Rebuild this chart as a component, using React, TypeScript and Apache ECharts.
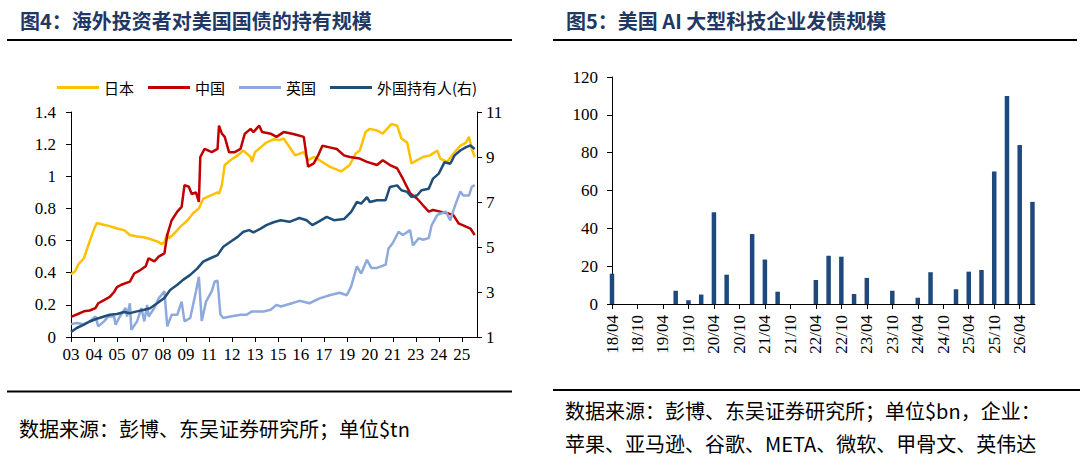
import React, { useEffect, useRef } from "react";
import * as echarts from "echarts";

// ---------- Left chart: holdings of US Treasuries ($tn), x = months since Jan 2003 ----------
const japanData: [number, number][] = [
  [0, 0.39], [3, 0.41], [5, 0.45], [9, 0.49], [12, 0.57], [16, 0.67], [18, 0.71], [22, 0.7],
  [27, 0.69], [32, 0.675], [37, 0.665], [41, 0.635], [46, 0.625], [51, 0.62], [55, 0.61],
  [60, 0.595], [63, 0.58], [65, 0.59], [67, 0.645], [68, 0.615], [71, 0.635], [76, 0.685],
  [81, 0.725], [85, 0.77], [89, 0.8], [92, 0.86], [97, 0.88], [102, 0.9], [103, 0.89],
  [105, 0.945], [107, 1.07], [111, 1.1], [116, 1.13], [120, 1.16], [125, 1.12], [126, 1.09],
  [128, 1.15], [132, 1.18], [136, 1.21], [141, 1.23], [145, 1.225], [148, 1.235], [153, 1.17],
  [156, 1.13], [162, 1.15], [165, 1.1], [169, 1.12], [173, 1.1], [180, 1.06], [188, 1.03],
  [194, 1.07], [198, 1.14], [201, 1.16], [205, 1.275], [208, 1.295], [213, 1.285], [217, 1.265],
  [220, 1.295], [223, 1.325], [227, 1.315], [230, 1.235], [234, 1.21], [237, 1.08], [241, 1.1],
  [245, 1.12], [250, 1.13], [255, 1.16], [257, 1.11], [262, 1.09], [266, 1.14], [271, 1.19],
  [275, 1.21], [277, 1.245], [279, 1.17], [281, 1.12],
];

const chinaData: [number, number][] = [
  [0, 0.125], [4, 0.14], [9, 0.16], [13, 0.165], [17, 0.18], [19, 0.21], [23, 0.23], [27, 0.25],
  [30, 0.28], [32, 0.31], [35, 0.325], [41, 0.345], [44, 0.395], [48, 0.415], [52, 0.44],
  [54, 0.49], [58, 0.47], [61, 0.5], [65, 0.52], [67, 0.635], [70, 0.725], [74, 0.78], [77, 0.81],
  [79, 0.945], [82, 0.935], [84, 0.89], [87, 0.9], [89, 0.84], [90, 1.12], [93, 1.17], [98, 1.15],
  [102, 1.17], [103, 1.315], [105, 1.265], [107, 1.245], [110, 1.15], [114, 1.15], [118, 1.17],
  [121, 1.265], [125, 1.295], [127, 1.275], [131, 1.315], [133, 1.275], [139, 1.265],
  [143, 1.245], [148, 1.275], [154, 1.265], [158, 1.255], [162, 1.245], [165, 1.06], [169, 1.08],
  [172, 1.13], [175, 1.19], [180, 1.18], [185, 1.17], [190, 1.13], [194, 1.12], [201, 1.11],
  [206, 1.09], [213, 1.07], [217, 1.1], [222, 1.07], [227, 1.05], [231, 0.985], [236, 0.895],
  [241, 0.86], [245, 0.82], [249, 0.78], [252, 0.79], [257, 0.78], [262, 0.77], [266, 0.76],
  [270, 0.705], [273, 0.695], [278, 0.675], [281, 0.635],
];

const ukData: [number, number][] = [
  [0, 0.08], [4, 0.087], [9, 0.08], [13, 0.097], [17, 0.128], [19, 0.066], [23, 0.097],
  [26, 0.128], [30, 0.128], [31, 0.076], [34, 0.128], [38, 0.18], [39, 0.128], [41, 0.21],
  [42, 0.045], [46, 0.097], [49, 0.18], [51, 0.097], [53, 0.2], [54, 0.128], [58, 0.18],
  [61, 0.24], [65, 0.285], [67, 0.066], [70, 0.138], [74, 0.138], [77, 0.22], [79, 0.097],
  [83, 0.118], [87, 0.285], [89, 0.375], [91, 0.1], [94, 0.22], [98, 0.285], [100, 0.345],
  [102, 0.35], [104, 0.14], [106, 0.118], [111, 0.128], [118, 0.138], [122, 0.138], [126, 0.159],
  [134, 0.159], [139, 0.17], [143, 0.2], [146, 0.19], [152, 0.205], [159, 0.225], [166, 0.21],
  [173, 0.24], [180, 0.26], [187, 0.275], [192, 0.26], [195, 0.315], [199, 0.44], [202, 0.395],
  [206, 0.48], [209, 0.43], [213, 0.43], [219, 0.45], [221, 0.55], [224, 0.585], [228, 0.655],
  [231, 0.635], [236, 0.665], [238, 0.57], [242, 0.615], [245, 0.605], [249, 0.615], [251, 0.695],
  [255, 0.76], [258, 0.77], [261, 0.78], [264, 0.725], [267, 0.81], [271, 0.905], [273, 0.88],
  [277, 0.88], [279, 0.935], [281, 0.945],
];

const foreignData: [number, number][] = [
  [0, 1.22], [4, 1.4], [9, 1.55], [13, 1.69], [18, 1.81], [23, 1.91], [27, 1.99], [32, 2.02],
  [37, 2.11], [41, 2.06], [46, 2.14], [51, 2.21], [55, 2.28], [60, 2.5], [65, 2.73], [69, 3.09],
  [74, 3.32], [78, 3.54], [83, 3.76], [88, 4.05], [92, 4.35], [97, 4.5], [102, 4.64], [106, 5.01],
  [111, 5.23], [116, 5.45], [120, 5.68], [124, 5.75], [127, 5.65], [132, 5.82], [136, 5.97],
  [141, 6.1], [146, 6.19], [152, 6.12], [159, 6.29], [164, 6.19], [168, 5.97], [173, 6.15],
  [178, 6.34], [183, 6.19], [190, 6.24], [195, 6.56], [199, 7.0], [202, 6.93], [206, 7.22],
  [208, 7.0], [213, 7.08], [219, 7.08], [222, 7.67], [227, 7.74], [230, 7.52], [234, 7.45],
  [237, 7.22], [241, 7.3], [244, 7.52], [249, 7.59], [252, 8.04], [256, 8.26], [260, 8.77],
  [264, 8.7], [267, 9.07], [271, 9.29], [275, 9.44], [278, 9.51], [281, 9.36],
];

const yearTickLabels = ["03", "04", "05", "07", "08", "09", "11", "12", "13", "15", "16", "17", "19", "20", "21", "23", "24", "25"];
const legendNames = ["日本", "中国", "英国", "外国持有人(右)"];

// ---------- Right chart: AI big-tech bond issuance ($bn), quarterly ----------
const quarterLabels = [
  "18/04", "18/07", "18/10", "19/01", "19/04", "19/07", "19/10", "20/01", "20/04", "20/07",
  "20/10", "21/01", "21/04", "21/07", "21/10", "22/01", "22/04", "22/07", "22/10", "23/01",
  "23/04", "23/07", "23/10", "24/01", "24/04", "24/07", "24/10", "25/01", "25/04", "25/07",
  "25/10", "26/01", "26/04", "26/07",
];
const bondIssuance = [
  16, 0, 0, 0, 0, 7, 2, 5, 48.5, 15.5,
  0, 37, 23.5, 6.5, 0, 0, 12.7, 25.5, 25, 5.3,
  13.8, 0, 7, 0, 3.3, 16.8, 0, 7.8, 17.1, 18,
  70, 110, 84, 54,
];

const serif = "Liberation Serif, DejaVu Serif, serif";
const cjk = "Noto Sans CJK SC";
const titleColor = "#1F3864";

export default function App() {
  const ref = useRef<HTMLDivElement>(null);

  useEffect(() => {
    if (!ref.current) return;
    const chart = echarts.init(ref.current, null, { renderer: "svg" });

    const axisLineStyle = { color: "#000", width: 1 };
    const labelBase = { color: "#000", fontFamily: serif };

    const option: any = {
      animation: false,
      backgroundColor: "#ffffff",
      textStyle: { fontFamily: serif },
      graphic: [
        {
          type: "text", x: 20, y: 20,
          style: { text: "图4：海外投资者对美国国债的持有规模", fontSize: 20, fontWeight: "bold", fontFamily: cjk, fill: titleColor, verticalAlign: "middle" },
        },
        {
          type: "text", x: 566, y: 20,
          style: { text: "图5：美国 AI 大型科技企业发债规模", fontSize: 20, fontWeight: "bold", fontFamily: cjk, fill: titleColor, verticalAlign: "middle" },
        },
        { type: "line", shape: { x1: 7, y1: 40, x2: 512, y2: 40 }, style: { stroke: "#000", lineWidth: 2 } },
        { type: "line", shape: { x1: 553, y1: 40, x2: 1077, y2: 40 }, style: { stroke: "#000", lineWidth: 2 } },
        { type: "line", shape: { x1: 7, y1: 391.5, x2: 512, y2: 391.5 }, style: { stroke: "#000", lineWidth: 2 } },
        { type: "line", shape: { x1: 553, y1: 390, x2: 1080, y2: 390 }, style: { stroke: "#000", lineWidth: 2 } },
        {
          type: "text", x: 19, y: 428,
          style: { text: "数据来源：彭博、东吴证券研究所；单位$tn", fontSize: 20, fontFamily: cjk, fill: "#000", verticalAlign: "middle" },
        },
        {
          type: "text", x: 565, y: 410,
          style: { text: "数据来源：彭博、东吴证券研究所；单位$bn，企业：", fontSize: 20, fontFamily: cjk, fill: "#000", verticalAlign: "middle" },
        },
        {
          type: "text", x: 565, y: 443,
          style: { text: "苹果、亚马逊、谷歌、META、微软、甲骨文、英伟达", fontSize: 20, fontFamily: cjk, fill: "#000", verticalAlign: "middle" },
        },
      ],
      legend: {
        data: legendNames,
        left: 52,
        top: 75,
        icon: "rect",
        itemWidth: 42,
        itemHeight: 3,
        itemGap: 14,
        textStyle: { fontFamily: cjk, fontSize: 15, color: "#000" },
      },
      grid: [
        { left: 71, top: 112, width: 406, height: 225 },
        { left: 612, top: 77, width: 423, height: 227 },
      ],
      xAxis: [
        {
          type: "value", gridIndex: 0, min: 0, max: 282.6, interval: 16,
          axisLine: { show: true, lineStyle: axisLineStyle },
          axisTick: { show: true, length: 5, inside: false, lineStyle: axisLineStyle },
          splitLine: { show: false },
          axisLabel: {
            ...labelBase, fontSize: 17, margin: 9, showMaxLabel: false,
            formatter: (v: number) => {
              const k = Math.round(v / 16);
              return Math.abs(v - k * 16) < 1e-6 ? yearTickLabels[k] ?? "" : "";
            },
          },
        },
        {
          type: "value", gridIndex: 1, min: 0, max: 33.2, interval: 2,
          axisLine: { show: true, lineStyle: axisLineStyle },
          axisTick: { show: true, length: 5, lineStyle: axisLineStyle },
          splitLine: { show: false },
          axisLabel: {
            ...labelBase, fontSize: 17, margin: 11, rotate: 90, showMaxLabel: false,
            formatter: (v: number) => {
              const k = Math.round(v);
              return Math.abs(v - k) < 1e-6 ? quarterLabels[k] ?? "" : "";
            },
          },
        },
      ],
      yAxis: [
        {
          type: "value", gridIndex: 0, min: 0, max: 1.4, interval: 0.2, position: "left",
          axisLine: { show: true, lineStyle: axisLineStyle },
          axisTick: { show: true, length: 5, lineStyle: axisLineStyle },
          splitLine: { show: false },
          axisLabel: { ...labelBase, fontSize: 17, margin: 15 },
        },
        {
          type: "value", gridIndex: 0, min: 1, max: 11, interval: 2, position: "right",
          axisLine: { show: true, lineStyle: axisLineStyle },
          axisTick: { show: true, length: 5, lineStyle: axisLineStyle },
          splitLine: { show: false },
          axisLabel: { ...labelBase, fontSize: 17, margin: 9 },
        },
        {
          type: "value", gridIndex: 1, min: 0, max: 120, interval: 20, position: "left",
          axisLine: { show: true, lineStyle: axisLineStyle },
          axisTick: { show: true, length: 5, lineStyle: axisLineStyle },
          splitLine: { show: false },
          axisLabel: { ...labelBase, fontSize: 17, margin: 14 },
        },
      ],
      series: [
        {
          name: "日本", type: "line", xAxisIndex: 0, yAxisIndex: 0, data: japanData, symbol: "none",
          lineStyle: { color: "#FFC000", width: 2.5 }, itemStyle: { color: "#FFC000" },
        },
        {
          name: "中国", type: "line", xAxisIndex: 0, yAxisIndex: 0, data: chinaData, symbol: "none",
          lineStyle: { color: "#C00000", width: 2.5 }, itemStyle: { color: "#C00000" },
        },
        {
          name: "英国", type: "line", xAxisIndex: 0, yAxisIndex: 0, data: ukData, symbol: "none",
          lineStyle: { color: "#8EA9DB", width: 2.5 }, itemStyle: { color: "#8EA9DB" },
        },
        {
          name: "外国持有人(右)", type: "line", xAxisIndex: 0, yAxisIndex: 1, data: foreignData, symbol: "none",
          lineStyle: { color: "#1F4E79", width: 2.5 }, itemStyle: { color: "#1F4E79" },
        },
        {
          name: "发债规模", type: "bar", xAxisIndex: 1, yAxisIndex: 2,
          data: bondIssuance.map((v, i) => [i, v]),
          barWidth: 4.5,
          itemStyle: { color: "#1F497D" },
        },
      ],
    };

    chart.setOption(option);
    return () => chart.dispose();
  }, []);

  return (
    <div
      ref={ref}
      style={{ position: "absolute", left: 0, top: 0, width: 1080, height: 462, background: "#fff" }}
    />
  );
}
